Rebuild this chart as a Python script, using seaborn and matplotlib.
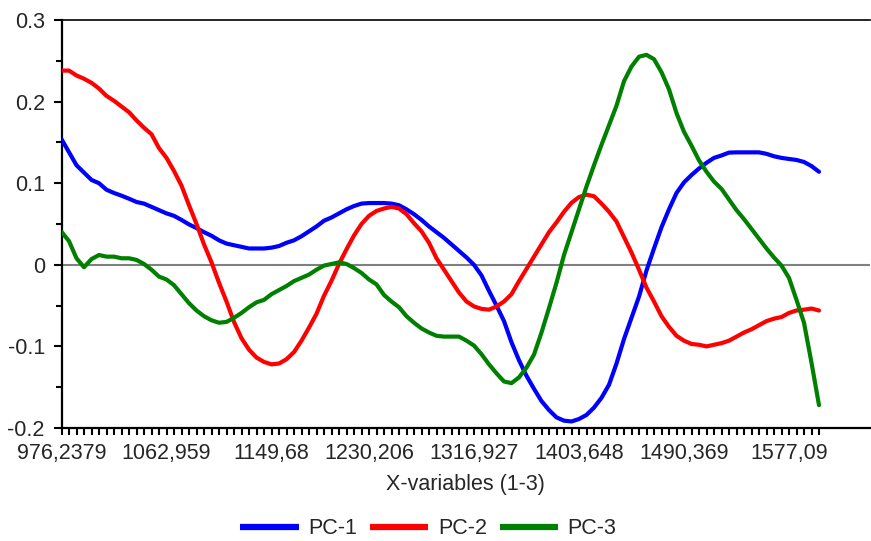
import numpy as np
import pandas as pd
import seaborn as sns
import matplotlib.pyplot as plt

# loading values (one per x-variable)
pc1 = [0.154, 0.138, 0.122, 0.113, 0.104, 0.100, 0.092, 0.088, 0.0847, 0.081,
       0.077, 0.075, 0.071, 0.067, 0.063, 0.060, 0.055, 0.0495, 0.045, 0.040,
       0.0356, 0.030, 0.026, 0.024, 0.022, 0.020, 0.020, 0.020, 0.021, 0.023,
       0.027, 0.030, 0.035, 0.041, 0.047, 0.054, 0.058, 0.063, 0.068, 0.072,
       0.075, 0.0757, 0.0757, 0.0757, 0.075, 0.073, 0.068, 0.062, 0.055, 0.047,
       0.040, 0.033, 0.025, 0.017, 0.009, 0.000, -0.013, -0.032, -0.050, -0.069,
       -0.095, -0.117, -0.136, -0.152, -0.167, -0.178, -0.187, -0.191, -0.192, -0.189,
       -0.184, -0.175, -0.163, -0.147, -0.121, -0.091, -0.065, -0.039, -0.007, 0.020,
       0.046, 0.068, 0.088, 0.101, 0.110, 0.118, 0.125, 0.131, 0.134, 0.1375,
       0.1378, 0.1378, 0.1378, 0.1378, 0.136, 0.133, 0.131, 0.1297, 0.1285, 0.126,
       0.121, 0.114]

pc2 = [0.238, 0.238, 0.232, 0.228, 0.223, 0.216, 0.207, 0.201, 0.194, 0.187,
       0.177, 0.168, 0.160, 0.143, 0.131, 0.115, 0.097, 0.073, 0.050, 0.025,
       0.003, -0.022, -0.045, -0.070, -0.090, -0.104, -0.1137, -0.119, -0.122, -0.121,
       -0.1157, -0.107, -0.093, -0.077, -0.060, -0.038, -0.0196, 0.001, 0.019, 0.036,
       0.050, 0.060, 0.066, 0.069, 0.071, 0.069, 0.062, 0.051, 0.041, 0.027,
       0.008, -0.006, -0.020, -0.034, -0.045, -0.051, -0.054, -0.055, -0.051, -0.045,
       -0.036, -0.020, -0.005, 0.010, 0.025, 0.040, 0.052, 0.065, 0.076, 0.083,
       0.086, 0.084, 0.075, 0.065, 0.053, 0.034, 0.015, -0.006, -0.028, -0.045,
       -0.063, -0.076, -0.087, -0.093, -0.097, -0.098, -0.100, -0.098, -0.096, -0.093,
       -0.088, -0.083, -0.079, -0.074, -0.069, -0.066, -0.064, -0.059, -0.056, -0.055,
       -0.0536, -0.056]

pc3 = [0.0405, 0.029, 0.008, -0.003, 0.007, 0.012, 0.010, 0.010, 0.008, 0.008,
       0.006, 0.001, -0.006, -0.0145, -0.018, -0.025, -0.036, -0.047, -0.056, -0.063,
       -0.068, -0.071, -0.070, -0.065, -0.059, -0.052, -0.046, -0.043, -0.036, -0.031,
       -0.026, -0.020, -0.016, -0.012, -0.006, -0.001, 0.001, 0.003, 0.001, -0.004,
       -0.010, -0.018, -0.024, -0.037, -0.045, -0.052, -0.063, -0.071, -0.078, -0.083,
       -0.087, -0.088, -0.088, -0.088, -0.093, -0.099, -0.1096, -0.122, -0.133, -0.143,
       -0.145, -0.138, -0.126, -0.110, -0.083, -0.053, -0.022, 0.012, 0.040, 0.068,
       0.096, 0.122, 0.147, 0.171, 0.195, 0.225, 0.243, 0.255, 0.2573, 0.252,
       0.236, 0.215, 0.186, 0.163, 0.146, 0.128, 0.114, 0.102, 0.093, 0.080,
       0.067, 0.056, 0.044, 0.032, 0.020, 0.009, -0.001, -0.016, -0.043, -0.071,
       -0.120, -0.172]

tick_idx = [0, 14, 28, 41, 55, 69, 83, 97]
tick_labels = ["976,2379", "1062,959", "1149,68", "1230,206",
               "1316,927", "1403,648", "1490,369", "1577,09"]
ytick_vals = [-0.2, -0.1, 0, 0.1, 0.2, 0.3]
ytick_labels = ["-0.2", "-0.1", "0", "0.1", "0.2", "0.3"]

#-------------------------------------------------------------------------------

n = len(pc1)
df = pd.DataFrame({
    "idx": np.tile(np.arange(n), 3),
    "value": pc1 + pc2 + pc3,
    "pc": ["PC-1"] * n + ["PC-2"] * n + ["PC-3"] * n,
})

sns.set_style("ticks")
plt.rcParams["font.family"] = ["Liberation Sans", "DejaVu Sans"]
fs = 15.5

fig = plt.figure(figsize=(8.71, 5.41), dpi=100)
ax = fig.add_axes([61.5 / 871, 1 - 428 / 541, (870 - 61.5) / 871, (428 - 20) / 541])

ax.axhline(0, color="#808080", lw=1.5, zorder=1)

sns.lineplot(
    data=df, x="idx", y="value", hue="pc",
    palette={"PC-1": "#0000ff", "PC-2": "#ff0000", "PC-3": "#008000"},
    estimator=None, sort=False, lw=3, ax=ax, zorder=3
)

ax.set_xlim(0, 107.8)
ax.set_ylim(-0.2, 0.3)

ax.set_xticks(tick_idx)
ax.set_xticklabels(tick_labels, fontsize=fs)
ax.set_xticks(np.arange(n), minor=True)
ax.set_yticks(ytick_vals)
ax.set_yticklabels(ytick_labels, fontsize=fs)
ax.set_yticks(np.arange(-0.15, 0.3, 0.1), minor=True)

ax.tick_params(axis="x", which="both", length=5, width=1.5, color="black", pad=6)
ax.tick_params(axis="y", which="major", length=6, width=1.5, color="black", pad=6)
ax.tick_params(axis="y", which="minor", length=4, width=1.5, color="black")

ax.set_xlabel("X-variables (1-3)", fontsize=fs, labelpad=7)
ax.set_ylabel("")

for s in ["left", "bottom"]:
    ax.spines[s].set_linewidth(1.6)
    ax.spines[s].set_color("black")
ax.spines["top"].set_visible(True)
ax.spines["top"].set_linewidth(1.2)
ax.spines["top"].set_color("black")
ax.spines["right"].set_visible(False)

handles, labels = ax.get_legend_handles_labels()
ax.get_legend().remove()
leg = fig.legend(
    handles, labels, loc="center", ncol=3, frameon=False,
    bbox_to_anchor=(428.5 / 871, 1 - 529 / 541), fontsize=fs,
    handlelength=2.7, handletextpad=0.45, columnspacing=0.6
)
for line in leg.get_lines():
    line.set_linewidth(4.5)
    line.set_solid_capstyle("butt")

fig.savefig("out.png", dpi=100)
